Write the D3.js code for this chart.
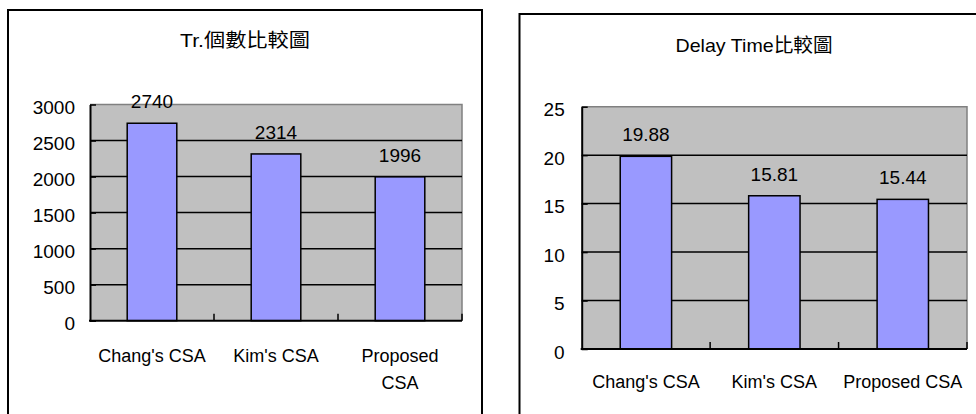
<!DOCTYPE html>
<html>
<head>
<meta charset="utf-8">
<script src="https://cdn.jsdelivr.net/npm/d3@7"></script>
<style>
  body { margin: 0; background: #fff; }
  text { font-family: "Liberation Sans", Arial, "Noto Sans CJK TC", sans-serif; fill: #000; }
</style>
</head>
<body>
<div id="chart"></div>
<script>
// data
var categories = ["Chang's CSA", "Kim's CSA", "Proposed CSA"];
var trCounts = [2740, 2314, 1996];
var delayTimes = [19.88, 15.81, 15.44];
var trTicks = [0, 500, 1000, 1500, 2000, 2500, 3000];
var delayTicks = [0, 5, 10, 15, 20, 25];
var trTitle = "Tr.個數比較圖";
var delayTitle = "Delay Time比較圖";

var width = 976, height = 414;
var barFill = "#9999ff", plotFill = "#c0c0c0";

var svg = d3.select("#chart")
  .append("svg")
  .attr("width", width)
  .attr("height", height);

function drawChart(cfg) {
  var g = svg.append("g");

  // outer frame
  g.append("rect")
    .attr("x", cfg.frame[0]).attr("y", cfg.frame[1])
    .attr("width", cfg.frame[2]).attr("height", cfg.frame[3])
    .attr("fill", "#fff").attr("stroke", "#000").attr("stroke-width", 2);

  g.append("text")
    .attr("x", cfg.titleX).attr("y", cfg.titleY)
    .attr("text-anchor", "middle")
    .attr("textLength", cfg.titleW)
    .attr("lengthAdjust", "spacingAndGlyphs")
    .style("font-size", "19px")
    .text(cfg.title);

  var p = cfg.plot;
  var x = d3.scaleBand()
    .domain(cfg.categories)
    .range([p.left, p.right])
    .paddingInner(0.6)
    .paddingOuter(0.3);
  var y = d3.scaleLinear()
    .domain([0, d3.max(cfg.ticks)])
    .range([p.bottom, p.top]);

  // plot area
  g.append("rect")
    .attr("x", p.left).attr("y", p.top)
    .attr("width", p.right - p.left).attr("height", p.bottom - p.top)
    .attr("fill", plotFill);
  g.append("path")
    .attr("d", "M" + p.left + "," + p.top + "H" + p.right + "V" + p.bottom)
    .attr("fill", "none").attr("stroke", "#808080").attr("stroke-width", 1.5);

  // gridlines
  g.selectAll(".grid")
    .data(cfg.ticks.filter(function(t){ return t > 0 && t < d3.max(cfg.ticks); }))
    .enter().append("line")
    .attr("class", "grid")
    .attr("x1", p.left).attr("x2", p.right)
    .attr("y1", function(d){ return y(d); })
    .attr("y2", function(d){ return y(d); })
    .attr("stroke", "#000").attr("stroke-width", 1.5);

  // bars
  g.selectAll(".bar")
    .data(cfg.values)
    .enter().append("rect")
    .attr("class", "bar")
    .attr("x", function(d, i){ return x(cfg.categories[i]); })
    .attr("y", function(d){ return y(d); })
    .attr("width", x.bandwidth())
    .attr("height", function(d){ return p.bottom - y(d); })
    .attr("fill", barFill)
    .attr("stroke", "#000").attr("stroke-width", 1.5);

  // value labels
  g.selectAll(".val")
    .data(cfg.values)
    .enter().append("text")
    .attr("class", "val")
    .attr("text-anchor", "middle")
    .attr("x", function(d, i){ return x(cfg.categories[i]) + x.bandwidth() / 2; })
    .attr("y", function(d){ return y(d) - 15; })
    .style("font-size", "19px")
    .text(function(d){ return cfg.fmt(d); });

  // y axis
  var yAxis = g.append("g")
    .attr("transform", "translate(" + p.left + ",0)")
    .call(d3.axisLeft(y).tickValues(cfg.ticks).tickFormat(d3.format("d"))
      .tickSizeInner(-6).tickSizeOuter(0).tickPadding(cfg.tickPad));
  yAxis.attr("font-family", null).attr("font-size", null);
  yAxis.select(".domain").attr("stroke-width", 2);
  yAxis.selectAll(".tick line").attr("stroke-width", 1.5);
  yAxis.selectAll("text")
    .attr("dy", "0.48em")
    .style("font-size", "19px");

  // x axis: ticks on category boundaries
  var bounds = d3.range(cfg.categories.length + 1).map(function(i){
    return p.left + i * x.step();
  }).slice(1);
  g.append("line")
    .attr("x1", p.left - 1).attr("x2", p.right)
    .attr("y1", p.bottom).attr("y2", p.bottom)
    .attr("stroke", "#000").attr("stroke-width", 2);
  g.selectAll(".xtick")
    .data(bounds)
    .enter().append("line")
    .attr("class", "xtick")
    .attr("x1", function(d){ return d; }).attr("x2", function(d){ return d; })
    .attr("y1", p.bottom).attr("y2", p.bottom - 7)
    .attr("stroke", "#000").attr("stroke-width", 1.5);

  // category labels, wrapped when too wide for the slot
  var labels = g.selectAll(".cat")
    .data(cfg.categories)
    .enter().append("text")
    .attr("class", "cat")
    .attr("text-anchor", "middle")
    .attr("x", function(d){ return x(d) + x.bandwidth() / 2; })
    .attr("y", cfg.labelY)
    .style("font-size", "18px")
    .text(function(d){ return d; });

  labels.each(function(d){
    var t = d3.select(this);
    if (this.getComputedTextLength() <= cfg.wrapW) return;
    var words = d.split(" ");
    var cx = t.attr("x");
    t.text(null);
    t.append("tspan").attr("x", cx).text(words.slice(0, -1).join(" "));
    t.append("tspan").attr("x", cx).attr("dy", 27).text(words[words.length - 1]);
  });
}

drawChart({
  title: trTitle,
  categories: categories,
  values: trCounts,
  ticks: trTicks,
  fmt: d3.format("d"),
  frame: [8, 10, 474, 420],
  titleX: 245, titleY: 47, titleW: 130,
  plot: { left: 90, right: 462, top: 104.5, bottom: 320.7 },
  tickPad: 15,
  labelY: 361.5,
  wrapW: 114
});

drawChart({
  title: delayTitle,
  categories: categories,
  values: delayTimes,
  ticks: delayTicks,
  fmt: d3.format(".2f"),
  frame: [519.5, 14, 470, 420],
  titleX: 754, titleY: 51.5, titleW: 157,
  plot: { left: 581.7, right: 967, top: 106.7, bottom: 349 },
  tickPad: 17,
  labelY: 388.3,
  wrapW: 200
});
</script>
</body>
</html>
